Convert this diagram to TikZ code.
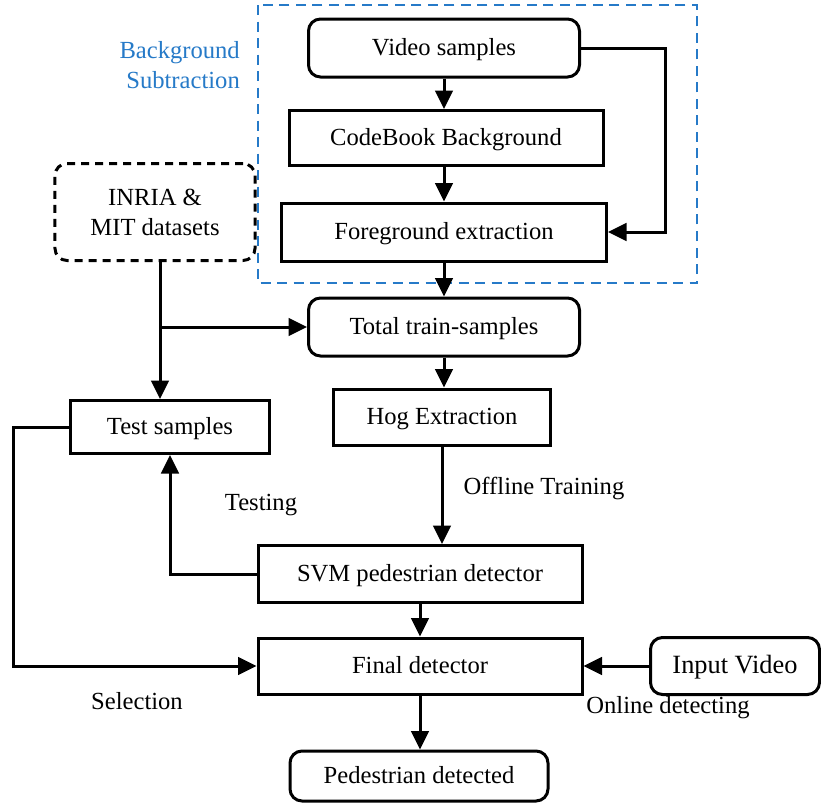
\documentclass[tikz,border=0pt]{standalone}
\usepackage{fontspec}
\setmainfont{Liberation Serif}
\usetikzlibrary{arrows.meta}

\definecolor{bgsub}{RGB}{38,122,200}

\tikzset{
  block/.style={draw, line width=0.6mm, inner sep=0pt, text height=1.1em, text depth=0.25em},
  roundblock/.style={block, rounded corners=2.4mm},
  flow/.style={line width=0.6mm, -{Triangle[length=3.7mm,width=3.5mm]}},
  plain/.style={line width=0.6mm},
}

\begin{document}
\begin{tikzpicture}[x=0.2mm, y=-0.2mm, font=\fontsize{14}{17}\selectfont]
  % canvas: 821 x 803
  \useasboundingbox[fill=white] (0,0) rectangle (821,803);

  % background subtraction stage
  \draw[bgsub, line width=0.5mm, dash pattern=on 2mm off 1.3mm] (258,5) rectangle (697,283);
  \node[bgsub, align=right, anchor=east] (bglabel) at (246,65) {Background\\Subtraction};

  \node[roundblock, minimum width=54.2mm, minimum height=11.6mm] (video) at (444,48) {Video samples};
  \node[block, minimum width=62.8mm, minimum height=11mm] (codebook) at (446,138) {CodeBook Background};
  \node[block, minimum width=65mm, minimum height=11.6mm] (fg) at (444,232) {Foreground extraction};

  % datasets and training path
  \node[draw, line width=0.6mm, rounded corners=2.4mm, inner sep=0pt, align=center,
        dash pattern=on 1.6mm off 1.2mm, minimum width=40mm, minimum height=19.4mm] (inria) at (155,212) {INRIA \&\\MIT datasets};
  \node[roundblock, minimum width=54.2mm, minimum height=11.6mm] (total) at (444,327) {Total train-samples};
  \node[block, minimum width=39.6mm, minimum height=10.6mm] (test) at (170,427) {Test samples};
  \node[block, minimum width=43.4mm, minimum height=11.2mm] (hog) at (442,417) {Hog Extraction};
  \node[block, minimum width=64.8mm, minimum height=11.4mm] (svm) at (420,574) {SVM pedestrian detector};

  % online detection
  \node[block, minimum width=64.8mm, minimum height=11.2mm] (final) at (420,666) {Final detector};
  \node[roundblock, font=\fontsize{15}{18}\selectfont, minimum width=33.8mm, minimum height=11.4mm] (input) at (735,666) {Input Video};
  \node[roundblock, minimum width=51.6mm, minimum height=10mm] (ped) at (419,776) {Pedestrian detected};

  % edge labels
  \node (offline) at (544,488) {Offline Training};
  \node (testing) at (261,505) {Testing};
  \node (selection) at (137,701) {Selection};
  \node (online) at (668,708) {Online detecting};

  % bends
  \coordinate (vright) at (665,48);
  \coordinate (split) at (160,327);
  \coordinate (leftrail) at (13,427);

  % connectors
  \draw[flow] (video.south) -- (video.south |- codebook.north);
  \draw[flow] (codebook.south -| video.south) -- (video.south |- fg.north);
  \draw[flow] (video.east) -- (vright) |- (fg.east);
  \draw[flow] (fg.south) -- (total.north);
  \draw[plain] (inria.south -| split) -- (split);
  \draw[flow] (split) -- (split |- test.north);
  \draw[flow] (split) -- (total.west);
  \draw[flow] (total.south) -- (total.south |- hog.north);
  \draw[flow] (hog.south) -- (hog.south |- svm.north);
  \draw[flow] (svm.west) -| (test.south);
  \draw[flow] (svm.south) -- (final.north);
  \draw[flow] (test.west) -- (leftrail) |- (final.west);
  \draw[flow] (input.west) -- (final.east);
  \draw[flow] (final.south) -- (final.south |- ped.north);
\end{tikzpicture}
\end{document}
